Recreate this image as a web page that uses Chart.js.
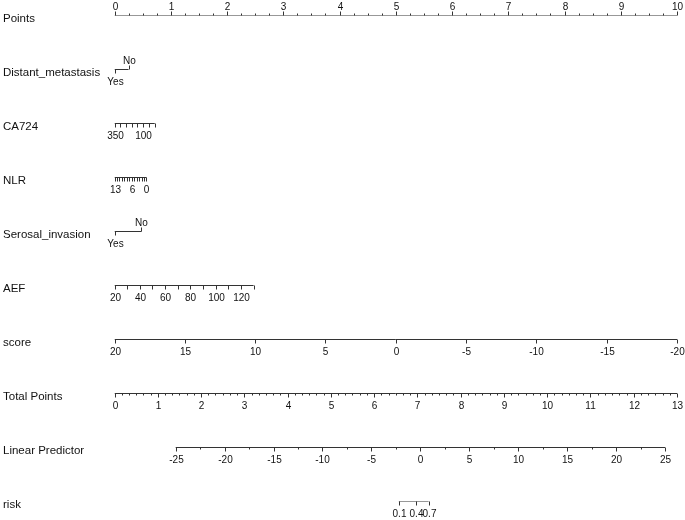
<!DOCTYPE html>
<html lang="en">
<head>
    <meta charset="UTF-8">
    <title>Nomogram</title>
    <style>
        * {
            margin: 0;
            padding: 0;
            box-sizing: border-box;
        }

        body {
            background-color: #fff;
        }

        .wrap {
            width: 685px;
            height: 520px;
        }
    </style>
</head>
<body>
    <div class="wrap"><canvas id="nomogram" width="685" height="520"></canvas></div>

    <script src="https://cdn.jsdelivr.net/npm/chart.js@4.4.0/dist/chart.umd.min.js"></script>
    <script>
        // Row names, top to bottom
        const rowNames = ['Points', 'Distant_metastasis', 'CA724', 'NLR', 'Serosal_invasion',
            'AEF', 'score', 'Total Points', 'Linear Predictor', 'risk'];

        // Points axis (0-10)
        const pointsLabels = ['0', '1', '2', '3', '4', '5', '6', '7', '8', '9', '10'];

        // Predictors: values, shown labels, and points at the ends of each axis
        const distantLevels = ['Yes', 'No'];
        const distantPoints = [0, 0.25];

        const ca724Values = [350, 300, 250, 200, 150, 100, 50, 0];
        const ca724Labels = ['350', '', '', '', '', '100', '', ''];
        const ca724Range = [0, 0.715];

        const nlrValues = [13, 12, 11, 10, 9, 8, 7, 6, 5, 4, 3, 2, 1, 0];
        const nlrLabels = ['13', '', '', '', '', '', '', '6', '', '', '', '', '', '0'];
        const nlrRange = [0, 0.568];

        const serosalLevels = ['Yes', 'No'];
        const serosalPoints = [0, 0.479];

        const aefValues = [20, 30, 40, 50, 60, 70, 80, 90, 100, 110, 120, 130];
        const aefLabels = ['20', '', '40', '', '60', '', '80', '', '100', '', '120', ''];
        const aefRange = [0, 2.473];

        const scoreValues = [20, 15, 10, 5, 0, -5, -10, -15, -20];
        const scoreRange = [0, 10];

        // Total points axis 0-13 spans the same width as points 0-10
        const totalValues = [0, 1, 2, 3, 4, 5, 6, 7, 8, 9, 10, 11, 12, 13];
        const totalRange = [0, 10];

        const lpValues = [-25, -20, -15, -10, -5, 0, 5, 10, 15, 20, 25];
        const lpRange = [1.088, 9.787];

        const riskValues = [0.1, 0.4, 0.7];
        const riskLabels = ['0.1', '0.4', '0.7'];

        const rowGap = 1;
        const lineColor = '#333';
        const textColor = '#111';
        const fontName = "'Liberation Sans', Arial, sans-serif";

        // map a value on a linear axis to points
        function lin(v, v0, v1, range) {
            return range[0] + (v - v0) / (v1 - v0) * (range[1] - range[0]);
        }
        function lpToPoints(lp) {
            return lin(lp, -25, 25, lpRange);
        }

        // Build the rows the plugin will draw
        const rows = [];
        const pointsTicks = [];
        for (let i = 0; i <= 40; i++) {
            const v = i / 4;
            pointsTicks.push({ x: v, len: i % 4 === 0 ? 4 : 2, label: i % 4 === 0 ? pointsLabels[i / 4] : '' });
        }
        rows.push({ ticks: pointsTicks, up: true });

        rows.push({ ticks: distantLevels.map((l, i) => ({ x: distantPoints[i], len: 4, label: l, up: i === 1 })) });

        rows.push({ ticks: ca724Values.map((v, i) => ({ x: lin(v, 350, 0, ca724Range), len: 4, label: ca724Labels[i] })) });

        rows.push({ ticks: nlrValues.map((v, i) => ({ x: lin(v, 13, 0, nlrRange), len: 4, label: nlrLabels[i] })) });

        rows.push({ ticks: serosalLevels.map((l, i) => ({ x: serosalPoints[i], len: 4, label: l, up: i === 1 })) });

        rows.push({ ticks: aefValues.map((v, i) => ({ x: lin(v, 20, 130, aefRange), len: 4, label: aefLabels[i] })) });

        rows.push({ ticks: scoreValues.map(v => ({ x: lin(v, 20, -20, scoreRange), len: 4, label: String(v) })) });

        const totalTicks = [];
        totalValues.forEach((v, i) => {
            totalTicks.push({ x: lin(v, 0, 13, totalRange), len: 4, label: String(v) });
            if (i < totalValues.length - 1) {
                for (let k = 1; k < 6; k++) {
                    totalTicks.push({ x: lin(v + k / 6, 0, 13, totalRange), len: 2, label: '' });
                }
            }
        });
        rows.push({ ticks: totalTicks });

        const lpTicks = [];
        lpValues.forEach((v, i) => {
            lpTicks.push({ x: lpToPoints(v), len: 4, label: String(v) });
            if (i < lpValues.length - 1) lpTicks.push({ x: lpToPoints(v + 2.5), len: 2, label: '' });
        });
        rows.push({ ticks: lpTicks });

        rows.push({ ticks: riskValues.map((p, i) => ({ x: lpToPoints(Math.log(p / (1 - p))), len: 4, label: riskLabels[i] })) });

        // One line dataset per row: the axis line from its first to its last tick
        const datasets = rows.map((row, i) => {
            const xs = row.ticks.map(t => t.x);
            return {
                label: rowNames[i],
                data: [{ x: Math.min(...xs), y: i * rowGap }, { x: Math.max(...xs), y: i * rowGap }],
                borderColor: lineColor,
                borderWidth: 1,
                pointRadius: 0,
                showLine: true,
                fill: false
            };
        });

        // Draw ticks, tick labels and row names through the chart scales
        const nomogramAxes = {
            id: 'nomogramAxes',
            afterDatasetsDraw(chart) {
                const ctx = chart.ctx;
                const xs = chart.scales.x;
                const ys = chart.scales.y;
                ctx.save();
                ctx.strokeStyle = lineColor;
                ctx.lineWidth = 1;
                ctx.fillStyle = textColor;
                rows.forEach((row, i) => {
                    const y = ys.getPixelForValue(i * rowGap);
                    ctx.font = '11.5px ' + fontName;
                    ctx.textAlign = 'left';
                    ctx.textBaseline = 'middle';
                    ctx.fillText(rowNames[i], 3, y + 3);

                    ctx.font = '10px ' + fontName;
                    ctx.textAlign = 'center';
                    row.ticks.forEach(t => {
                        const up = t.up !== undefined ? t.up : !!row.up;
                        const px = Math.round(xs.getPixelForValue(t.x)) + 0.5;
                        ctx.beginPath();
                        ctx.moveTo(px, y);
                        ctx.lineTo(px, up ? y - t.len : y + t.len);
                        ctx.stroke();
                        if (t.label) {
                            if (up) {
                                ctx.textBaseline = 'alphabetic';
                                ctx.fillText(t.label, px, y - 6);
                            } else {
                                ctx.textBaseline = 'top';
                                ctx.fillText(t.label, px, y + 8);
                            }
                        }
                    });
                });
                ctx.restore();
            }
        };

        new Chart(document.getElementById('nomogram'), {
            type: 'scatter',
            data: { datasets: datasets },
            options: {
                responsive: false,
                animation: false,
                layout: {
                    padding: { left: 114.5, right: 8, top: 15.5, bottom: 18.5 }
                },
                plugins: {
                    legend: { display: false },
                    tooltip: { enabled: false }
                },
                scales: {
                    x: { type: 'linear', min: 0, max: 10, display: false },
                    y: { type: 'linear', min: 0, max: 9, reverse: true, display: false }
                }
            },
            plugins: [nomogramAxes]
        });
    </script>
</body>
</html>
